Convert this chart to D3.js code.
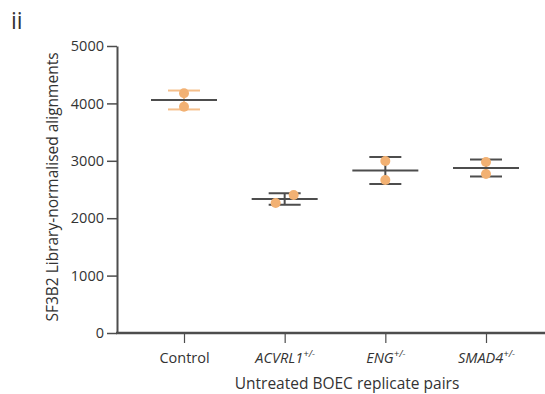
<!DOCTYPE html>
<html>
<head>
<meta charset="utf-8">
<script src="https://cdn.jsdelivr.net/npm/d3@7"></script>
<style>
  body { margin: 0; background: #fff; }
  svg text { font-family: "Open Sans", "Liberation Sans", sans-serif; fill: #333; }
</style>
</head>
<body>
<svg id="chart" width="545" height="394"></svg>
<script>
// groups on the x axis
const groups = ["Control", "ACVRL1", "ENG", "SMAD4"];
const italicGroup = [false, true, true, true];
// replicate pair values for each group
const repA = [4176, 2265, 2997, 2979];
const repB = [3943, 2404, 2666, 2770];
const yTicks = [0, 1000, 2000, 3000, 4000, 5000];

const orange = "#f2b173";
const grey = "#4d4d4d";

const svg = d3.select("#chart");

const x = d3.scalePoint()
  .domain(groups)
  .range([184, 486]);

const y = d3.scaleLinear()
  .domain([0, 5000])
  .range([333, 46]);

// y axis
const yAxis = svg.append("g")
  .attr("transform", "translate(117,0)")
  .call(d3.axisLeft(y).tickValues(yTicks).tickFormat(d3.format("d"))
    .tickSize(10).tickPadding(3).tickSizeOuter(0));
yAxis.select(".domain").attr("stroke", grey).attr("stroke-width", 2);
yAxis.selectAll(".tick line").attr("stroke", grey).attr("stroke-width", 1.5);
yAxis.selectAll(".tick text").attr("font-size", 14.5).attr("fill", "#333");

// x axis
const xAxis = svg.append("g")
  .attr("transform", "translate(0,333)")
  .call(d3.axisBottom(x).tickSize(10).tickPadding(9).tickFormat(() => ""));
xAxis.select(".domain").remove();
xAxis.selectAll(".tick line").attr("stroke", grey).attr("stroke-width", 1.2);
svg.append("line")
  .attr("x1", 116).attr("x2", 545)
  .attr("y1", 333).attr("y2", 333)
  .attr("stroke", grey).attr("stroke-width", 2.5);

// x tick labels with superscript
xAxis.selectAll(".tick").each(function(d, i) {
  const t = d3.select(this).append("text")
    .attr("y", 30)
    .attr("text-anchor", "middle")
    .attr("font-size", 14.5)
    .attr("fill", "#333");
  if (italicGroup[i]) {
    t.append("tspan").attr("font-style", "italic").text(d);
    t.append("tspan").attr("font-style", "italic").attr("font-size", 9.5).attr("dy", -6).text("+/-");
  } else {
    t.text(d);
  }
});

// mean, SD bars and points
const data = groups.map((g, i) => {
  const vals = [repA[i], repB[i]];
  return { g, i, vals, mean: d3.mean(vals), sd: d3.deviation(vals) };
});

const grp = svg.append("g");
data.forEach(d => {
  const cx = x(d.g);
  const capColor = d.i === 0 ? "#f5bf8b" : grey;
  grp.append("line")
    .attr("x1", cx).attr("x2", cx)
    .attr("y1", y(d.mean + d.sd)).attr("y2", y(d.mean - d.sd))
    .attr("stroke", capColor).attr("stroke-width", 2);
  [d.mean + d.sd, d.mean - d.sd].forEach(v => {
    grp.append("line")
      .attr("x1", cx - 16).attr("x2", cx + 16)
      .attr("y1", y(v)).attr("y2", y(v))
      .attr("stroke", capColor).attr("stroke-width", 2);
  });
  grp.append("line")
    .attr("x1", cx - 33).attr("x2", cx + 33)
    .attr("y1", y(d.mean)).attr("y2", y(d.mean))
    .attr("stroke", grey).attr("stroke-width", 2);
  // spread points sideways when they would overlap
  const close = Math.abs(y(d.vals[0]) - y(d.vals[1])) < 10;
  d.vals.forEach(v => {
    const off = close ? (v > d.mean ? 9 : -9) : 0;
    grp.append("circle")
      .attr("cx", cx + off).attr("cy", y(v))
      .attr("r", 5)
      .attr("fill", orange);
  });
});

// axis titles
svg.append("text")
  .attr("transform", "translate(58,187) rotate(-90)")
  .attr("text-anchor", "middle")
  .attr("font-size", 15.5)
  .text("SF3B2 Library-normalised alignments");

svg.append("text")
  .attr("x", 347).attr("y", 389)
  .attr("text-anchor", "middle")
  .attr("font-size", 15.5)
  .text("Untreated BOEC replicate pairs");

svg.append("text")
  .attr("x", 11).attr("y", 29)
  .attr("font-size", 23)
  .attr("fill", "#222")
  .text("ii");
</script>
</body>
</html>
